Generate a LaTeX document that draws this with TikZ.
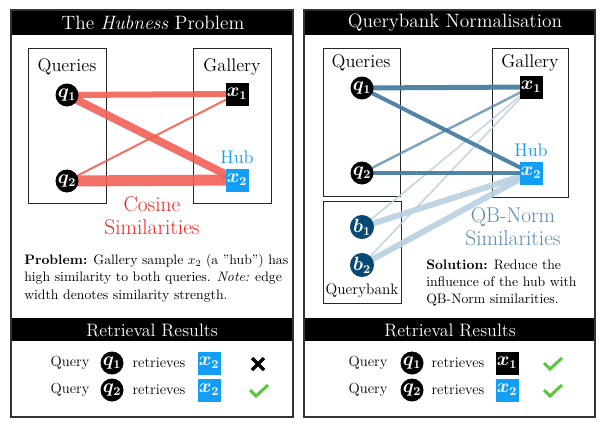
\documentclass[tikz,border=0pt]{standalone}
\usepackage{fontspec}
\usetikzlibrary{positioning}
\newcommand{\pxunit}{0.75pt}
\definecolor{cosred}{RGB}{240,92,80}
\definecolor{cosredtext}{RGB}{240,35,30}
\definecolor{hubblue}{RGB}{18,158,245}
\definecolor{qbdark}{RGB}{72,125,160}
\definecolor{qblight}{RGB}{185,208,225}
\definecolor{qbtext}{RGB}{88,136,176}
\definecolor{bankblue}{RGB}{8,72,115}
\definecolor{tickgreen}{RGB}{90,200,60}
\pgfdeclarelayer{framelayer}
\pgfdeclarelayer{edgelayer}
\pgfsetlayers{framelayer,edgelayer,main}
\tikzset{
    qsty/.style={circle,fill=black,text=white,minimum size=23*\pxunit,inner sep=0pt,font=\fontsize{13.5}{13}\selectfont\boldmath},
    bsty/.style={qsty,fill=bankblue},
    gsty/.style={rectangle,fill=black,text=white,minimum size=23*\pxunit,inner sep=0pt,font=\fontsize{13.5}{13}\selectfont\boldmath},
    hubsty/.style={gsty,fill=hubblue},
    framesty/.style={draw=black!80,line width=1.5*\pxunit},
    boxsty/.style={draw=black!85,line width=1*\pxunit},
    barsty/.style={fill=black},
    titlesty/.style={text=white,font=\fontsize{14.5}{16}\selectfont},
    restitlesty/.style={text=white,font=\fontsize{13.5}{16}\selectfont},
    labsty/.style={font=\fontsize{13.7}{15}\selectfont},
    simsty/.style={align=center,font=\fontsize{16}{17}\selectfont},
    notesty/.style={align=left,font=\fontsize{10.3}{13}\selectfont,inner sep=0pt},
    rowsty/.style={font=\fontsize{11}{13}\selectfont},
    redsty/.style={draw=cosred,draw opacity=0.88},
    qbsty/.style={draw=qbdark,draw opacity=0.95},
    banksty/.style={draw=qblight,draw opacity=0.9},
    marksty/.style={inner sep=0pt,minimum size=0pt},
    tickline/.style={draw=tickgreen,line width=3*\pxunit},
    crossline/.style={draw=black,line width=3.2*\pxunit},
}
\newcommand{\tickmark}[1]{\draw[tickline] ([shift={(-9,-1)}]#1.center) -- ([shift={(-3,5)}]#1.center) -- ([shift={(9,-6)}]#1.center);}
\newcommand{\crossmark}[1]{\draw[crossline] ([shift={(-6,-6)}]#1.center) -- ([shift={(6,6)}]#1.center) ([shift={(-6,6)}]#1.center) -- ([shift={(6,-6)}]#1.center);}

\begin{document}
\begin{tikzpicture}[x=\pxunit,y=-\pxunit]
  \useasboundingbox (0,0) rectangle (607,432);

  % left panel
  \begin{pgfonlayer}{framelayer}
    \fill[barsty] (11,10) rectangle (293,35);
    \fill[barsty] (11,318) rectangle (293,341);
    \draw[framesty] (11,10) rectangle (293,417);
    \draw[boxsty] (28,48) rectangle (106,203);
    \draw[boxsty] (193,48) rectangle (271,203);
  \end{pgfonlayer}
  \node[titlesty] (ltitle) at (153,23) {The \emph{Hubness} Problem};
  \node[labsty] (lqueries) at (67,67) {Queries};
  \node[labsty] (lgallery) at (232,67) {Gallery};
  \node[qsty] (lq1) at (67,95) {$q_1$};
  \node[qsty] (lq2) at (67,181) {$q_2$};
  \node[gsty] (lx1) at (237,94) {$x_1$};
  \node[hubsty] (lx2) at (237,180) {$x_2$};
  \node[labsty,text=hubblue,above=0pt of lx2] (lhub) {Hub};
  \node[simsty,text=cosredtext] (lcos) at (152,216) {Cosine\\Similarities};
  \node[notesty,anchor=west] (lnote) at (24,278)
    {\textbf{Problem:} Gallery sample $x_2$ (a {\addfontfeatures{Ligatures=TeXOff}"hub"}) has\\
     high similarity to both queries. \emph{Note:} edge\\
     width denotes similarity strength.};
  \begin{pgfonlayer}{edgelayer}
    \draw[redsty,line width=6*\pxunit] (lq1.center) -- (lx1.center);
    \draw[redsty,line width=8*\pxunit] (lq1.center) -- (lx2.center);
    \draw[redsty,line width=2*\pxunit] (lq2.center) -- (lx1.center);
    \draw[redsty,line width=11*\pxunit] (lq2.center) -- (lx2.center);
  \end{pgfonlayer}
  \node[restitlesty] (lres) at (152,330) {Retrieval Results};
  \node[rowsty] (lqa) at (70,363) {Query};
  \node[qsty] (lra) at (112,363) {$q_1$};
  \node[rowsty] (lta) at (159,363) {retrieves};
  \node[hubsty] (lsa) at (209,363) {$x_2$};
  \node[marksty] (lma) at (258,364) {};
  \crossmark{lma}
  \node[rowsty] (lqb) at (70,390) {Query};
  \node[qsty] (lrb) at (112,390) {$q_2$};
  \node[rowsty] (ltb) at (159,390) {retrieves};
  \node[hubsty] (lsb) at (209,390) {$x_2$};
  \node[marksty] (lmb) at (259,391) {};
  \tickmark{lmb}

  % right panel
  \begin{pgfonlayer}{framelayer}
    \fill[barsty] (304,10) rectangle (595,35);
    \fill[barsty] (304,318) rectangle (595,341);
    \draw[framesty] (304,10) rectangle (595,417);
    \draw[boxsty] (323,48) rectangle (400,196);
    \draw[boxsty] (492,48) rectangle (568,197);
    \draw[boxsty] (323,201) rectangle (401,303);
  \end{pgfonlayer}
  \node[titlesty] (rtitle) at (455,23) {Querybank Normalisation};
  \node[labsty] (rqueries) at (361,63) {Queries};
  \node[labsty] (rgallery) at (530,63) {Gallery};
  \node[qsty] (rq1) at (362,88) {$q_1$};
  \node[qsty] (rq2) at (362,173) {$q_2$};
  \node[gsty] (rx1) at (531,87) {$x_1$};
  \node[hubsty] (rx2) at (531,173) {$x_2$};
  \node[labsty,text=hubblue,above=0pt of rx2] (rhub) {Hub};
  \node[bsty] (rb1) at (362,227) {$b_1$};
  \node[bsty] (rb2) at (362,265) {$b_2$};
  \node[labsty,font=\fontsize{11.5}{13}\selectfont] (rbank) at (362,291) {Querybank};
  \node[simsty,text=qbtext] (rqb) at (513,227) {QB-Norm\\Similarities};
  \node[notesty,anchor=west] (rnote) at (426,283)
    {\textbf{Solution:} Reduce the\\
     influence of the hub with\\
     QB-Norm similarities.};
  \begin{pgfonlayer}{edgelayer}
    \draw[banksty,line width=1.5*\pxunit] (rb1.center) -- (rx1.center);
    \draw[banksty,line width=6*\pxunit] (rb1.center) -- (rx2.center);
    \draw[banksty,line width=1.5*\pxunit] (rb2.center) -- (rx1.center);
    \draw[banksty,line width=6*\pxunit] (rb2.center) -- (rx2.center);
    \draw[qbsty,line width=5*\pxunit] (rq1.center) -- (rx1.center);
    \draw[qbsty,line width=4*\pxunit] (rq1.center) -- (rx2.center);
    \draw[qbsty,draw opacity=0.7,line width=2.5*\pxunit] (rq2.center) -- (rx1.center);
    \draw[qbsty,line width=4*\pxunit] (rq2.center) -- (rx2.center);
  \end{pgfonlayer}
  \node[restitlesty] (rres) at (450,330) {Retrieval Results};
  \node[rowsty] (rqa) at (368,363) {Query};
  \node[qsty] (rra) at (412,363) {$q_1$};
  \node[rowsty] (rta) at (458,363) {retrieves};
  \node[gsty] (rsa) at (507,363) {$x_1$};
  \node[marksty] (rma) at (553,364) {};
  \tickmark{rma}
  \node[rowsty] (rqb) at (368,390) {Query};
  \node[qsty] (rrb) at (412,390) {$q_2$};
  \node[rowsty] (rtb) at (458,390) {retrieves};
  \node[hubsty] (rsb) at (507,390) {$x_2$};
  \node[marksty] (rmb) at (553,391) {};
  \tickmark{rmb}
\end{tikzpicture}
\end{document}
